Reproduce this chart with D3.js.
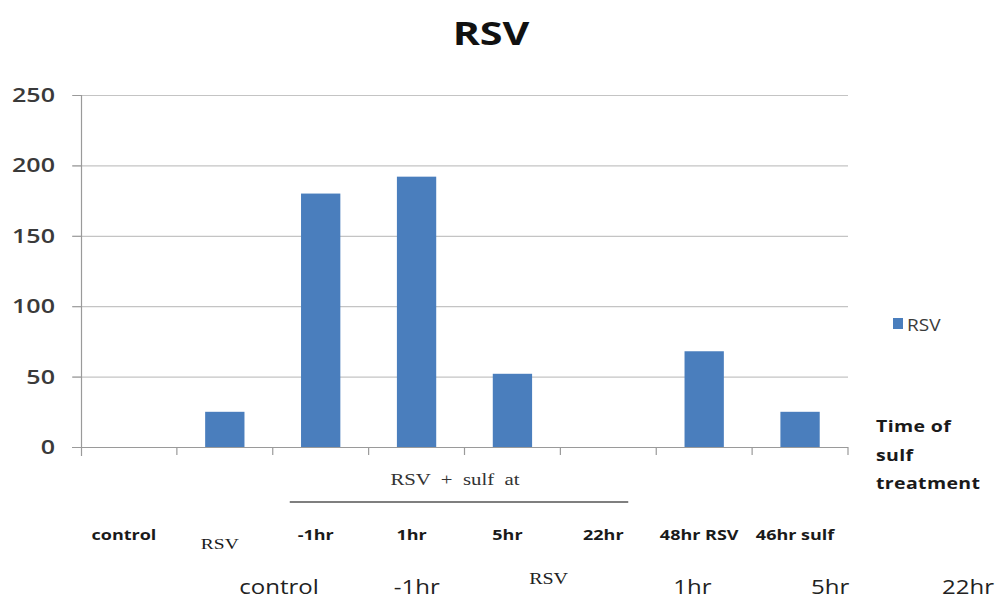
<!DOCTYPE html>
<html>
<head>
<meta charset="utf-8">
<script src="https://cdn.jsdelivr.net/npm/d3@7"></script>
<style>
  html, body { margin: 0; padding: 0; background: #fff; }
  svg { display: block; }
</style>
</head>
<body>
<svg id="chart" width="1002" height="604"></svg>
<script>
// Categories along the x axis and the measured RSV values
const categories = ["control", "RSV", "-1hr", "1hr", "5hr", "22hr", "48hr RSV", "46hr sulf"];
const rsvValues = [0, 25, 180, 192, 52, 0, 68, 25];

// First row of category captions (the "RSV" one is set in a serif face)
const rowOneLabels = ["control", "RSV", "-1hr", "1hr", "5hr", "22hr", "48hr RSV", "46hr sulf"];
const rowOneSerif = [false, true, false, false, false, false, false, false];

// Second, wider row of captions beneath
const rowTwoLabels = ["control", "-1hr", "RSV", "1hr", "5hr", "22hr"];
const rowTwoSerif = [false, false, true, false, false, false];

// Bracket spanning the sulf-treated groups
const bracketGroups = ["-1hr", "22hr"];
const bracketText = "RSV + sulf at";

const yTicks = [0, 50, 100, 150, 200, 250];
const seriesName = "RSV";
const sideNote = ["Time of", "sulf", "treatment"];

const svg = d3.select("#chart");
const sans = "'Open Sans', 'Liberation Sans', sans-serif";
const serif = "'Liberation Serif', 'DejaVu Serif', serif";
const barColor = "#4a7ebd";

const plot = { left: 81, right: 848, top: 95, bottom: 447 };

const y = d3.scaleLinear().domain([0, 250]).range([plot.bottom, plot.top]);
const xFrame = d3.scaleBand().domain(categories).range([plot.left, plot.right]).padding(0);
const x = d3.scaleBand().domain(categories).range([plot.left, plot.right])
  .paddingInner(0.59).paddingOuter(0.295);

// Horizontally stretched text helper
function stretchedText(sel, px, py, sx) {
  return sel.attr("transform", `translate(${px},${py}) scale(${sx},1)`);
}

// Title
stretchedText(svg.append("text"), 491, 45, 1.25)
  .attr("text-anchor", "middle")
  .attr("font-family", sans).attr("font-weight", 700).attr("font-size", 33)
  .attr("fill", "#111").text("RSV");

// Gridlines
svg.append("g").selectAll("line").data(yTicks).join("line")
  .attr("x1", plot.left - 9).attr("x2", plot.right)
  .attr("y1", d => y(d) + 0.5).attr("y2", d => y(d) + 0.5)
  .attr("stroke", d => d === 0 ? "#9a9a9a" : "#c4c4c4").attr("stroke-width", 1.2);

// Y axis line and labels
const yAxis = d3.axisLeft(y).tickValues(yTicks).tickSize(9).tickPadding(0);
const gy = svg.append("g").attr("transform", `translate(${plot.left + 0.5},0)`).call(yAxis);
gy.select(".domain").attr("stroke", "#9a9a9a").attr("stroke-width", 1.2)
  .attr("d", `M0,${plot.top}V${plot.bottom + 9}`);
gy.selectAll(".tick line").attr("stroke", "#9a9a9a");
gy.selectAll(".tick text").remove();
svg.append("g").selectAll("text").data(yTicks).join("text")
  .attr("transform", d => `translate(${plot.left - 26},${y(d) + 7}) scale(1.32,1)`)
  .attr("text-anchor", "end")
  .attr("font-family", sans).attr("font-weight", 600).attr("font-size", 19)
  .attr("fill", "#3a3a3a").text(d => d);

// Category boundary ticks below the baseline
const boundaries = categories.slice(1).map(c => xFrame(c)).concat([plot.right]);
svg.append("g").selectAll("line").data(boundaries).join("line")
  .attr("x1", d => d).attr("x2", d => d)
  .attr("y1", plot.bottom).attr("y2", plot.bottom + 8)
  .attr("stroke", "#9a9a9a").attr("stroke-width", 1.2);

// Bars
svg.append("g").selectAll("rect").data(categories).join("rect")
  .attr("x", d => x(d)).attr("width", x.bandwidth())
  .attr("y", (d, i) => y(rsvValues[i]))
  .attr("height", (d, i) => y(0) - y(rsvValues[i]))
  .attr("fill", barColor);

// Legend
svg.append("rect").attr("x", 893).attr("y", 318).attr("width", 10).attr("height", 11).attr("fill", barColor);
stretchedText(svg.append("text"), 907, 331, 1.12)
  .attr("font-family", sans).attr("font-size", 17).attr("fill", "#3a3a3a").text(seriesName);

// Side note
svg.append("g").selectAll("text").data(sideNote).join("text")
  .attr("transform", (d, i) => `translate(876,${432 + i * 28.5}) scale(1.22,1)`)
  .attr("font-family", sans).attr("font-weight", 700).attr("font-size", 16)
  .attr("fill", "#1a1a1a").attr("letter-spacing", 0.3).text(d => d);

// Bracket over the sulf-treated groups
const bx0 = xFrame(bracketGroups[0]) + 17;
const bx1 = xFrame(bracketGroups[1]) + xFrame.bandwidth() - 28;
svg.append("line").attr("x1", bx0).attr("x2", bx1).attr("y1", 502).attr("y2", 502)
  .attr("stroke", "#555").attr("stroke-width", 1.4);
stretchedText(svg.append("text"), (bx0 + bx1) / 2 - 4, 485, 1.3)
  .attr("text-anchor", "middle").attr("font-family", serif).attr("font-size", 16)
  .attr("word-spacing", 4).attr("fill", "#333").text(bracketText);

// First caption row
svg.append("g").selectAll("text").data(rowOneLabels).join("text")
  .attr("transform", (d, i) => {
    const cx = xFrame(categories[i]) + xFrame.bandwidth() / 2 - 5;
    return rowOneSerif[i] ? `translate(${cx},549) scale(1.3,1)` : `translate(${cx},540) scale(1.2,1)`;
  })
  .attr("text-anchor", "middle")
  .attr("font-family", (d, i) => rowOneSerif[i] ? serif : sans)
  .attr("font-weight", (d, i) => rowOneSerif[i] ? 400 : 700)
  .attr("font-size", 15)
  .attr("fill", "#1a1a1a").text(d => d);

// Second caption row
const x2 = d3.scalePoint().domain(d3.range(rowTwoLabels.length)).range([279, 968]);
svg.append("g").selectAll("text").data(rowTwoLabels).join("text")
  .attr("transform", (d, i) => rowTwoSerif[i]
    ? `translate(${x2(i) - 6},584) scale(1.25,1)` : `translate(${x2(i)},594) scale(1.2,1)`)
  .attr("text-anchor", "middle")
  .attr("font-family", (d, i) => rowTwoSerif[i] ? serif : sans)
  .attr("font-size", (d, i) => rowTwoSerif[i] ? 16 : 20)
  .attr("fill", "#222").text(d => d);
</script>
</body>
</html>
